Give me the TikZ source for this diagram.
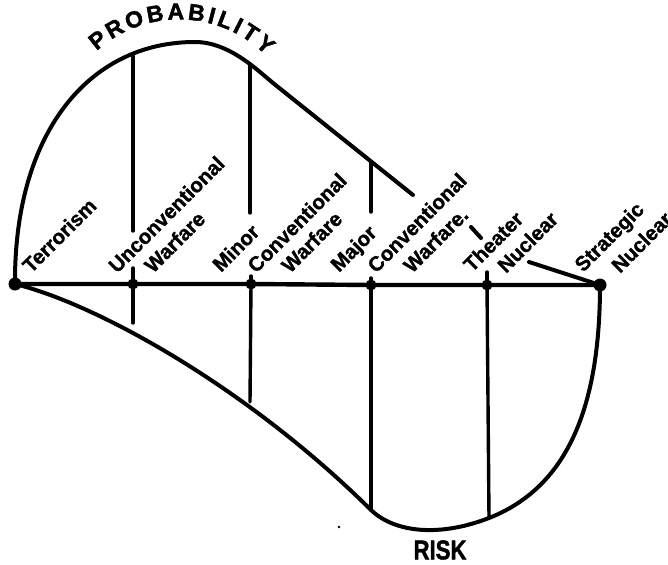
\documentclass[tikz,border=0pt]{standalone}
\usepackage{fontspec}
\setmainfont{Liberation Sans}
\newfontface\labfont{Liberation Sans Bold}[FakeBold=1.2]
\newfontface\titfont{Liberation Sans Bold}[FakeBold=1.8]
\usetikzlibrary{decorations.text}
\begin{document}
\begin{tikzpicture}[x=1pt,y=-1pt,
  curve/.style={line width=4pt, line cap=round, line join=round},
  vline/.style={line width=3.4pt, line cap=round},
  axisline/.style={line width=4.4pt},
  lab/.style={anchor=base west, inner sep=0pt, rotate=45,
    font=\labfont\fontsize{20.5}{22}\selectfont},
  dot/.style={circle, fill=black, inner sep=0pt, minimum size=11pt},
  enddot/.style={circle, fill=black, inner sep=0pt, minimum size=13pt}]
\useasboundingbox (0,0) rectangle (668,564);

% axis dots
\node[enddot] (d1) at (15,284) {};
\node[dot] (d2) at (133,284) {};
\node[dot] (d3) at (251,284) {};
\node[dot] (d4) at (371,285) {};
\node[dot] (d5) at (487,285) {};
\node[enddot] (d6) at (600,285) {};

% axis
\draw[axisline] (d1.center) -- (d2.center) -- (d3.center) -- (d4.center) -- (d5.center) -- (d6.center);

% probability curve
\coordinate (pk) at (195,42);
\coordinate (bend) at (273,83);
\coordinate (pend) at (413,195);
\draw[curve] (d1.center) .. controls (14,134) and (88,42) .. (pk)
  .. controls (228,42) and (255,68) .. (bend) -- (pend);
\coordinate (da) at (471,227);
\coordinate (db) at (481,238);
\draw[curve] (da) -- (db);
\coordinate (fs) at (529,262);
\draw[curve] (fs) -- (d6.center);

% risk curve
\coordinate (r4) at (371,510);
\coordinate (r5) at (489,518);
\draw[curve] (d1.center) .. controls (100,305) and (250,390) .. (r4)
  .. controls (395,533) and (440,537) .. (r5)
  .. controls (560,490) and (600,420) .. (d6.center);

% vertical lines above axis
\coordinate (u2t) at (133,56);  \coordinate (u2b) at (133,231);
\coordinate (u3t) at (250,65);  \coordinate (u3b) at (250,213);
\coordinate (u4t) at (371,162); \coordinate (u4b) at (371,212);
\draw[vline] (u2t) -- (u2b);
\draw[vline] (u3t) -- (u3b);
\draw[vline] (u4t) -- (u4b);

% small stubs above the dots
\coordinate (s2) at (133,268);
\coordinate (s3) at (251,276);
\coordinate (s4) at (371,278);
\coordinate (s5) at (487,272);
\draw[vline] (s2) -- (d2.center);
\draw[vline] (s3) -- (d3.center);
\draw[vline] (s4) -- (d4.center);
\draw[vline] (s5) -- (d5.center);

% vertical lines below axis
\coordinate (l2) at (133,323);
\coordinate (l3) at (250,402);
\draw[vline] (d2.center) -- (l2);
\draw[vline] (d3.center) -- (l3);
\draw[vline] (d4.center) -- (r4);
\draw[vline] (d5.center) -- (r5);

% labels
\node[lab] (t1) at (31,274) {Terrorism};
\node[lab] (t2a) at (117,274) {Unconventional};
\node[lab] (t2b) at (153,274) {Warfare};
\node[lab] (t3a) at (221,273) {Minor};
\node[lab] (t3b) at (256,274) {Conventional};
\node[lab] (t3c) at (290,274) {Warfare};
\node[lab] (t4a) at (339,273) {Major};
\node[lab] (t4b) at (376,274) {Conventional};
\node[lab] (t4c) at (412,274) {Warfare.};
\node[lab] (t5a) at (472,273) {Theater};
\node[lab] (t5b) at (506,274) {Nuclear};
\node[lab] (t6a) at (583,273) {Strategic};
\node[lab] (t6b) at (620,274) {Nuclear};

% PROBABILITY along arc
\path[font=\titfont\fontsize{23}{23}\selectfont, decorate, decoration={text along path,
   text={|\titfont\fontsize{23}{23}\selectfont|PROBABILITY},
   text align={fit to path}}]
  (96.7,51) arc[start angle=-132, end angle=-45, radius=123];

% RISK
\node[font=\titfont\fontsize{27}{27}\selectfont, xscale=0.82, inner sep=0pt] (risk) at (440,550) {RISK};

% speck
\fill (339,527) circle[radius=1.3];
\end{tikzpicture}
\end{document}
